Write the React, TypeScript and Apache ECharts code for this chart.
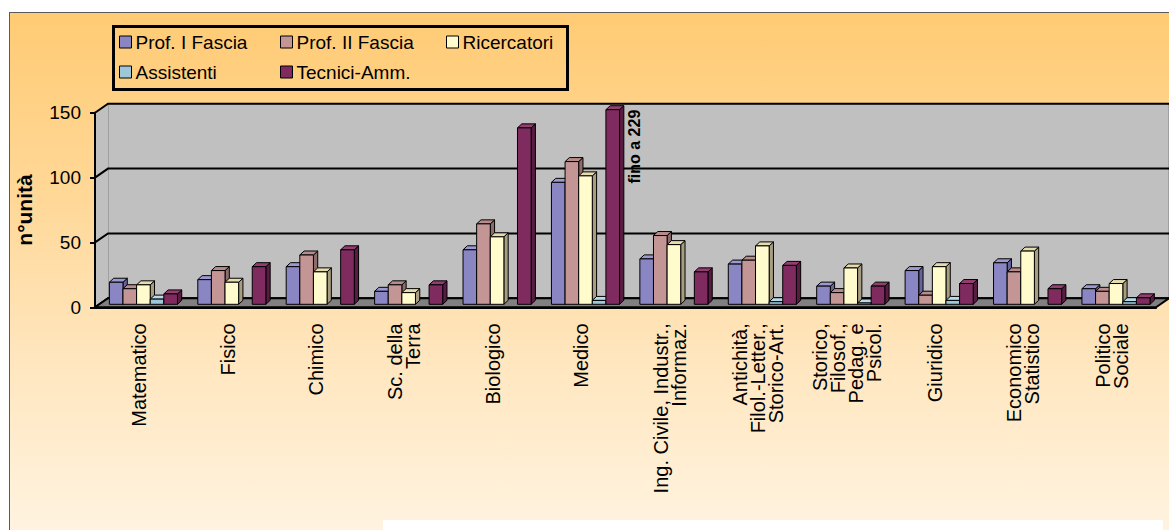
import React, { useEffect, useRef } from "react";
import * as echarts from "echarts";

// ---------- data ----------
const categories: string[] = [
  "Matematico",
  "Fisico",
  "Chimico",
  "Sc. della\nTerra",
  "Biologico",
  "Medico",
  "Ing. Civile, Industr.,\nInformaz.",
  "Antichità,\nFilol.-Letter.,\nStorico-Art.",
  "Storico,\nFilosof.,\nPedag. e\nPsicol.",
  "Giuridico",
  "Economico\nStatistico",
  "Politico\nSociale",
];
const seriesNames: string[] = [
  "Prof. I Fascia",
  "Prof. II Fascia",
  "Ricercatori",
  "Assistenti",
  "Tecnici-Amm.",
];
const profI: number[] = [17, 19, 29, 10, 42, 94, 35, 31, 14, 26, 32, 12];
const profII: number[] = [12, 26, 38, 15, 62, 110, 53, 34, 9, 7, 25, 10];
const ricercatori: number[] = [15, 17, 25, 9, 52, 99, 46, 45, 28, 29, 41, 16];
const assistenti: number[] = [4, 0, 0, 0, 0, 3, 0, 2, 1, 3, 0, 2];
const tecnici: number[] = [8, 29, 42, 15, 136, 229, 25, 30, 14, 16, 12, 5];
const yTicks: number[] = [0, 50, 100, 150];
const yMax = 150;
const axisTitle = "n°unità";
const overflowPrefix = "fino a";

const allSeries = [profI, profII, ricercatori, assistenti, tecnici];

// ---------- styles ----------
const FONT = '"Liberation Sans", Arial, sans-serif';
const faceColors = [
  { front: "#8A86C3", side: "#67649A", top: "#9C98D2" },
  { front: "#C39595", side: "#8E6C6C", top: "#B88C8C" },
  { front: "#FFFBCC", side: "#A89D80", top: "#E6DBAE" },
  { front: "#9CC8DA", side: "#6E8E9C", top: "#B8DAE7" },
  { front: "#802B60", side: "#581C42", top: "#933D71" },
];
const DEPTH_X = 13;
const DEPTH_Y = -9;

function makeBarRender(si: number) {
  return (params: any, api: any) => {
    const idx = api.value(0);
    const raw = api.value(1);
    if (!raw) return { type: "group", children: [] };
    const v = Math.min(raw, yMax);
    const base = api.coord([idx, 0]);
    const topP = api.coord([idx, v]);
    const W = api.size([1, 0])[0];
    const bw = W * 0.154;
    const x0 = base[0] - W / 2 + (W - 5 * bw) / 2 + 4.2 + si * bw;
    const yb = base[1] - 3;
    const yt = topP[1] - 3;
    const dx = 4.3;
    const dy = -4;
    const c = faceColors[si];
    const stroke = { stroke: "#000", lineWidth: 1 };
    const children: any[] = [
      {
        type: "polygon",
        shape: {
          points: [
            [x0 + bw, yt],
            [x0 + bw + dx, yt + dy],
            [x0 + bw + dx, yb + dy],
            [x0 + bw, yb],
          ],
        },
        style: { fill: c.side, ...stroke },
      },
      {
        type: "polygon",
        shape: {
          points: [
            [x0, yt],
            [x0 + dx, yt + dy],
            [x0 + bw + dx, yt + dy],
            [x0 + bw, yt],
          ],
        },
        style: { fill: c.top, ...stroke },
      },
      {
        type: "rect",
        shape: { x: x0, y: yt, width: bw, height: yb - yt },
        style: { fill: c.front, ...stroke },
      },
    ];
    if (raw > yMax) {
      children.push({
        type: "text",
        x: x0 + bw + dx + 10.5,
        y: yt,
        rotation: Math.PI / 2,
        style: {
          text: `${overflowPrefix} ${raw}`,
          x: 0,
          y: 0,
          align: "right",
          verticalAlign: "middle",
          fill: "#000",
          font: `bold 16px ${FONT}`,
        },
      });
    }
    return { type: "group", children };
  };
}

function renderDecor(params: any, api: any) {
  const cs = params.coordSys;
  const L = cs.x;
  const R = cs.x + cs.width;
  const T = cs.y;
  const B = cs.y + cs.height;
  const dx = DEPTH_X;
  const dy = DEPTH_Y;
  const children: any[] = [
    {
      type: "rect",
      shape: { x: L + dx, y: T + dy, width: R - L, height: B - T },
      style: { fill: "#C0C0C0", stroke: "#808080", lineWidth: 1 },
    },
    {
      type: "polygon",
      shape: { points: [[L, T], [L + dx, T + dy], [L + dx, B + dy], [L, B]] },
      style: { fill: "#C0C0C0" },
    },
  ];
  yTicks.forEach((t) => {
    const y = api.coord([0, t])[1];
    children.push({
      type: "polyline",
      shape: { points: [[L, y], [L + dx, y + dy], [R + dx, y + dy]] },
      style: { stroke: "#000", lineWidth: 2, fill: null },
    });
  });
  children.push({
    type: "polygon",
    shape: { points: [[L, B], [R, B], [R + dx, B + dy], [L + dx, B + dy]] },
    style: { fill: "#808080", stroke: "#000", lineWidth: 2 },
  });
  return { type: "group", children };
}

export default function App() {
  const ref = useRef<HTMLDivElement>(null);

  useEffect(() => {
    document.body.style.margin = "0";
    if (!ref.current) return;
    const chart = echarts.init(ref.current, undefined, { renderer: "svg" });

    const legendPos = [
      { left: 119, top: 32 },
      { left: 280, top: 32 },
      { left: 446, top: 32 },
      { left: 119, top: 62 },
      { left: 280, top: 62 },
    ];

    const option: any = {
      animation: false,
      backgroundColor: "transparent",
      textStyle: { fontFamily: FONT },
      grid: { left: 95, right: 13, top: 112.7, bottom: 222.7, containLabel: false },
      legend: seriesNames.map((name, i) => ({
        data: [
          {
            name,
            icon: "rect",
            itemStyle: { color: faceColors[i].front, borderColor: "#000", borderWidth: 1 },
          },
        ],
        left: legendPos[i].left,
        top: legendPos[i].top,
        padding: 0,
        itemWidth: 12,
        itemHeight: 12,
        itemGap: 0,
        selectedMode: false,
        textStyle: { fontSize: 19, color: "#000", fontFamily: FONT, padding: [0, 0, 0, -1], lineHeight: 20 },
      })),
      xAxis: {
        type: "category",
        data: categories,
        z: 10,
        axisLine: { lineStyle: { color: "#000", width: 2 } },
        axisTick: { length: 6, lineStyle: { color: "#000", width: 2 } },
        axisLabel: {
          rotate: 90,
          interval: 0,
          margin: 16,
          fontSize: 20,
          lineHeight: 18,
          color: "#000",
          fontFamily: FONT,
        },
      },
      yAxis: {
        type: "value",
        min: 0,
        max: yMax,
        interval: 50,
        z: 10,
        name: axisTitle,
        nameLocation: "middle",
        nameRotate: 90,
        nameGap: 60,
        nameTextStyle: { fontWeight: "bold", fontSize: 21, color: "#000", fontFamily: FONT },
        axisLine: { show: true, lineStyle: { color: "#000", width: 2 } },
        axisTick: { show: true, length: 5, lineStyle: { color: "#000", width: 2 } },
        axisLabel: { margin: 14, fontSize: 19, color: "#000", fontFamily: FONT },
        splitLine: { show: false },
      },
      graphic: [
        {
          type: "rect",
          z: 50,
          shape: { x: 113.5, y: 26.5, width: 454, height: 63 },
          style: { fill: "none", stroke: "#000", lineWidth: 3 },
        },
      ],
      series: [
        {
          name: "decor",
          type: "custom",
          silent: true,
          z: 1,
          data: [[0, 0]],
          renderItem: renderDecor,
        },
        ...seriesNames.map((name, si) => ({
          name,
          type: "custom",
          z: 2 + si,
          itemStyle: { color: faceColors[si].front },
          data: allSeries[si].map((v, i) => [i, v]),
          encode: { x: 0, y: 1 },
          renderItem: makeBarRender(si),
        })),
      ],
    };
    chart.setOption(option);
    return () => chart.dispose();
  }, []);

  return (
    <div style={{ position: "relative", width: 1169, height: 530, background: "#fff", overflow: "hidden" }}>
      <div
        style={{
          position: "absolute",
          left: 9,
          top: 12,
          width: 1160,
          height: 530,
          borderLeft: "1px solid #5a5a5a",
          borderTop: "1px solid #5a5a5a",
          background: "linear-gradient(180deg, #FFCB74 0%, #FFD898 35%, #FFE6BE 65%, #FFF4E2 100%)",
        }}
      />
      <div
        style={{
          position: "absolute",
          left: 383,
          top: 520,
          width: 780,
          height: 10,
          background: "#fff",
        }}
      />
      <div ref={ref} style={{ position: "absolute", left: 0, top: 0, width: 1169, height: 530 }} />
    </div>
  );
}
